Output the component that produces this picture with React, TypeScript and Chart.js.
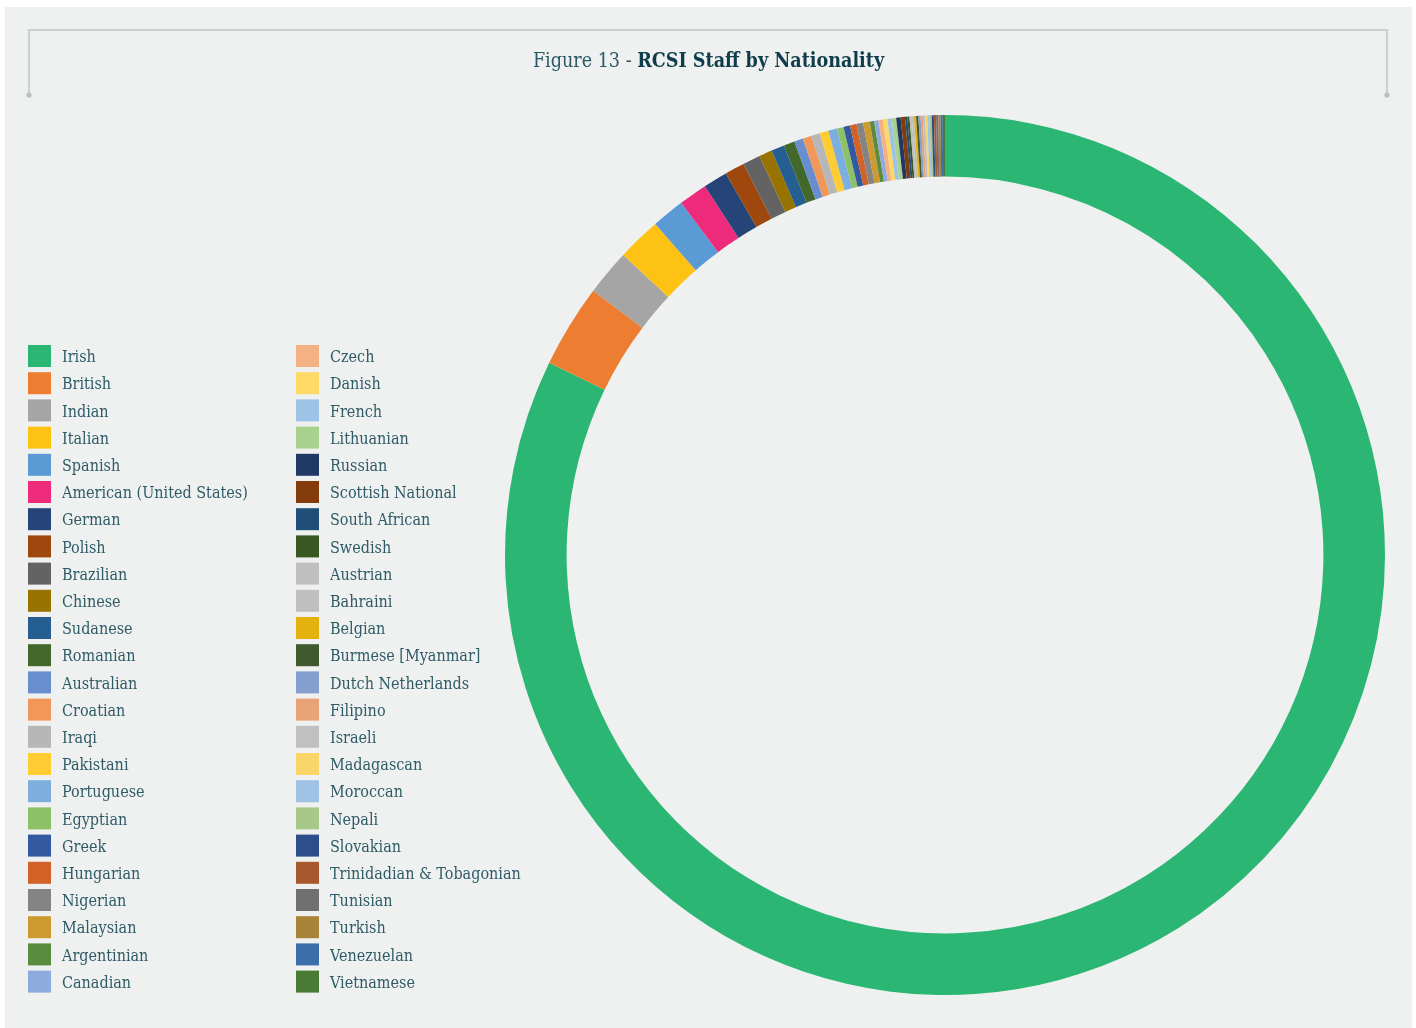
import React, { useEffect, useRef } from "react";
import { Chart, registerables } from "chart.js";

Chart.register(...registerables);

// ---------- data ----------
const nationalities: string[] = [
  "Irish", "British", "Indian", "Italian", "Spanish", "American (United States)",
  "German", "Polish", "Brazilian", "Chinese", "Sudanese", "Romanian",
  "Australian", "Croatian", "Iraqi", "Pakistani", "Portuguese", "Egyptian",
  "Greek", "Hungarian", "Nigerian", "Malaysian", "Argentinian", "Canadian",
  "Czech", "Danish", "French", "Lithuanian", "Russian", "Scottish National",
  "South African", "Swedish", "Austrian", "Bahraini", "Belgian", "Burmese [Myanmar]",
  "Dutch Netherlands", "Filipino", "Israeli", "Madagascan", "Moroccan", "Nepali",
  "Slovakian", "Trinidadian & Tobagonian", "Tunisian", "Turkish", "Venezuelan", "Vietnamese",
];

const staffCounts: number[] = [
  1020, 38, 21, 20, 15, 13,
  11, 9, 8, 6, 6, 5,
  4, 4, 4, 4, 4, 3,
  3, 3, 3, 3, 2, 2,
  2, 2, 2, 2, 2, 2,
  1, 1, 1, 1, 1, 1,
  1, 1, 1, 1, 1, 1,
  1, 1, 1, 1, 1, 1,
];

const sliceColors: string[] = [
  "#2bb673", "#ed7d31", "#a5a5a5", "#fec214", "#5b9bd5", "#ee2a7b",
  "#264478", "#9e480e", "#636363", "#997300", "#255e91", "#43682b",
  "#698ed0", "#f1975a", "#b7b7b7", "#ffcd33", "#7cafdd", "#8cc168",
  "#335aa1", "#d26227", "#848484", "#cc9a2e", "#5a8b3f", "#8faadc",
  "#f4b183", "#ffd966", "#9dc3e6", "#a9d18e", "#203864", "#843c0c",
  "#1f4e79", "#385723", "#bfbfbf", "#bfbfbf", "#e3b20f", "#40592e",
  "#849ed0", "#e8a477", "#c0c0c0", "#fad56a", "#9fc2e6", "#a6c98a",
  "#2e4e8b", "#a9572f", "#707070", "#a88439", "#3c6fa9", "#4a7a34",
];

const titleLight = "Figure 13 - ";
const titleBold = "RCSI Staff by Nationality";

// ---------- styling ----------
const W = 1416;
const H = 1028;
const PANEL = "#eff1f0";
const SERIF = "'DejaVu Serif Condensed', 'DejaVu Serif', serif";
const TEXT = "#2f5b67";

function fitSize(ctx: CanvasRenderingContext2D, text: string, weight: string, base: number, target: number) {
  ctx.font = `${weight} ${base}px ${SERIF}`;
  const w = ctx.measureText(text).width;
  return Math.min(base, (base * target) / w);
}

const framePlugin = {
  id: "framePlugin",
  beforeDraw(chart: any) {
    const ctx: CanvasRenderingContext2D = chart.ctx;
    ctx.save();
    ctx.fillStyle = "#ffffff";
    ctx.fillRect(0, 0, W, H);
    ctx.fillStyle = PANEL;
    ctx.fillRect(5, 7, 1407, 1021);

    // bracket
    ctx.strokeStyle = "#c9d0cf";
    ctx.lineWidth = 2;
    ctx.beginPath();
    ctx.moveTo(29, 95);
    ctx.lineTo(29, 30);
    ctx.lineTo(1387, 30);
    ctx.lineTo(1387, 95);
    ctx.stroke();
    ctx.fillStyle = "#b9c1c0";
    [29, 1387].forEach((x) => {
      ctx.beginPath();
      ctx.arc(x, 95, 2.6, 0, Math.PI * 2);
      ctx.fill();
    });

    // title
    const size = fitSize(ctx, titleLight + titleBold, "bold", 22, 362);
    ctx.font = `normal ${size}px ${SERIF}`;
    const wl = ctx.measureText(titleLight).width;
    ctx.font = `bold ${size}px ${SERIF}`;
    const wb = ctx.measureText(titleBold).width;
    const x0 = 708.5 - (wl + wb) / 2;
    ctx.textBaseline = "alphabetic";
    ctx.textAlign = "left";
    ctx.font = `normal ${size}px ${SERIF}`;
    ctx.fillStyle = "#2b5866";
    ctx.fillText(titleLight, x0, 67);
    ctx.font = `bold ${size}px ${SERIF}`;
    ctx.fillStyle = "#0d3c4b";
    ctx.fillText(titleBold, x0 + wl, 67);
    ctx.restore();
  },
  afterDraw(chart: any) {
    const ctx: CanvasRenderingContext2D = chart.ctx;
    ctx.save();
    const size = fitSize(ctx, "American (United States)", "normal", 16, 186);
    ctx.font = `normal ${size}px ${SERIF}`;
    ctx.textBaseline = "middle";
    ctx.textAlign = "left";
    const perCol = 24;
    nationalities.forEach((name, i) => {
      const col = Math.floor(i / perCol);
      const row = i % perCol;
      const bx = col === 0 ? 28 : 296;
      const by = 345 + row * 27.2;
      ctx.fillStyle = sliceColors[i];
      ctx.fillRect(bx, by, 23, 22);
      ctx.fillStyle = TEXT;
      ctx.fillText(name, bx + 34, by + 13);
    });
    ctx.restore();
  },
};

export default function App() {
  const ref = useRef<HTMLCanvasElement | null>(null);

  useEffect(() => {
    document.body.style.margin = "0";
    document.body.style.overflow = "hidden";
    const canvas = ref.current;
    if (!canvas) return;
    const chart = new Chart(canvas, {
      type: "doughnut",
      data: {
        labels: nationalities,
        datasets: [
          {
            data: staffCounts,
            backgroundColor: sliceColors,
            borderWidth: 0,
          },
        ],
      },
      options: {
        responsive: false,
        animation: false,
        devicePixelRatio: 1,
        cutout: "86%",
        layout: { padding: { left: 505, top: 115, right: 31, bottom: 33 } },
        plugins: {
          legend: { display: false },
          title: { display: false },
          tooltip: { enabled: false },
        },
      },
      plugins: [framePlugin],
    });
    return () => chart.destroy();
  }, []);

  return (
    <div style={{ width: W, height: H, position: "relative" }}>
      <canvas ref={ref} width={W} height={H} style={{ display: "block", width: W, height: H }} />
    </div>
  );
}
